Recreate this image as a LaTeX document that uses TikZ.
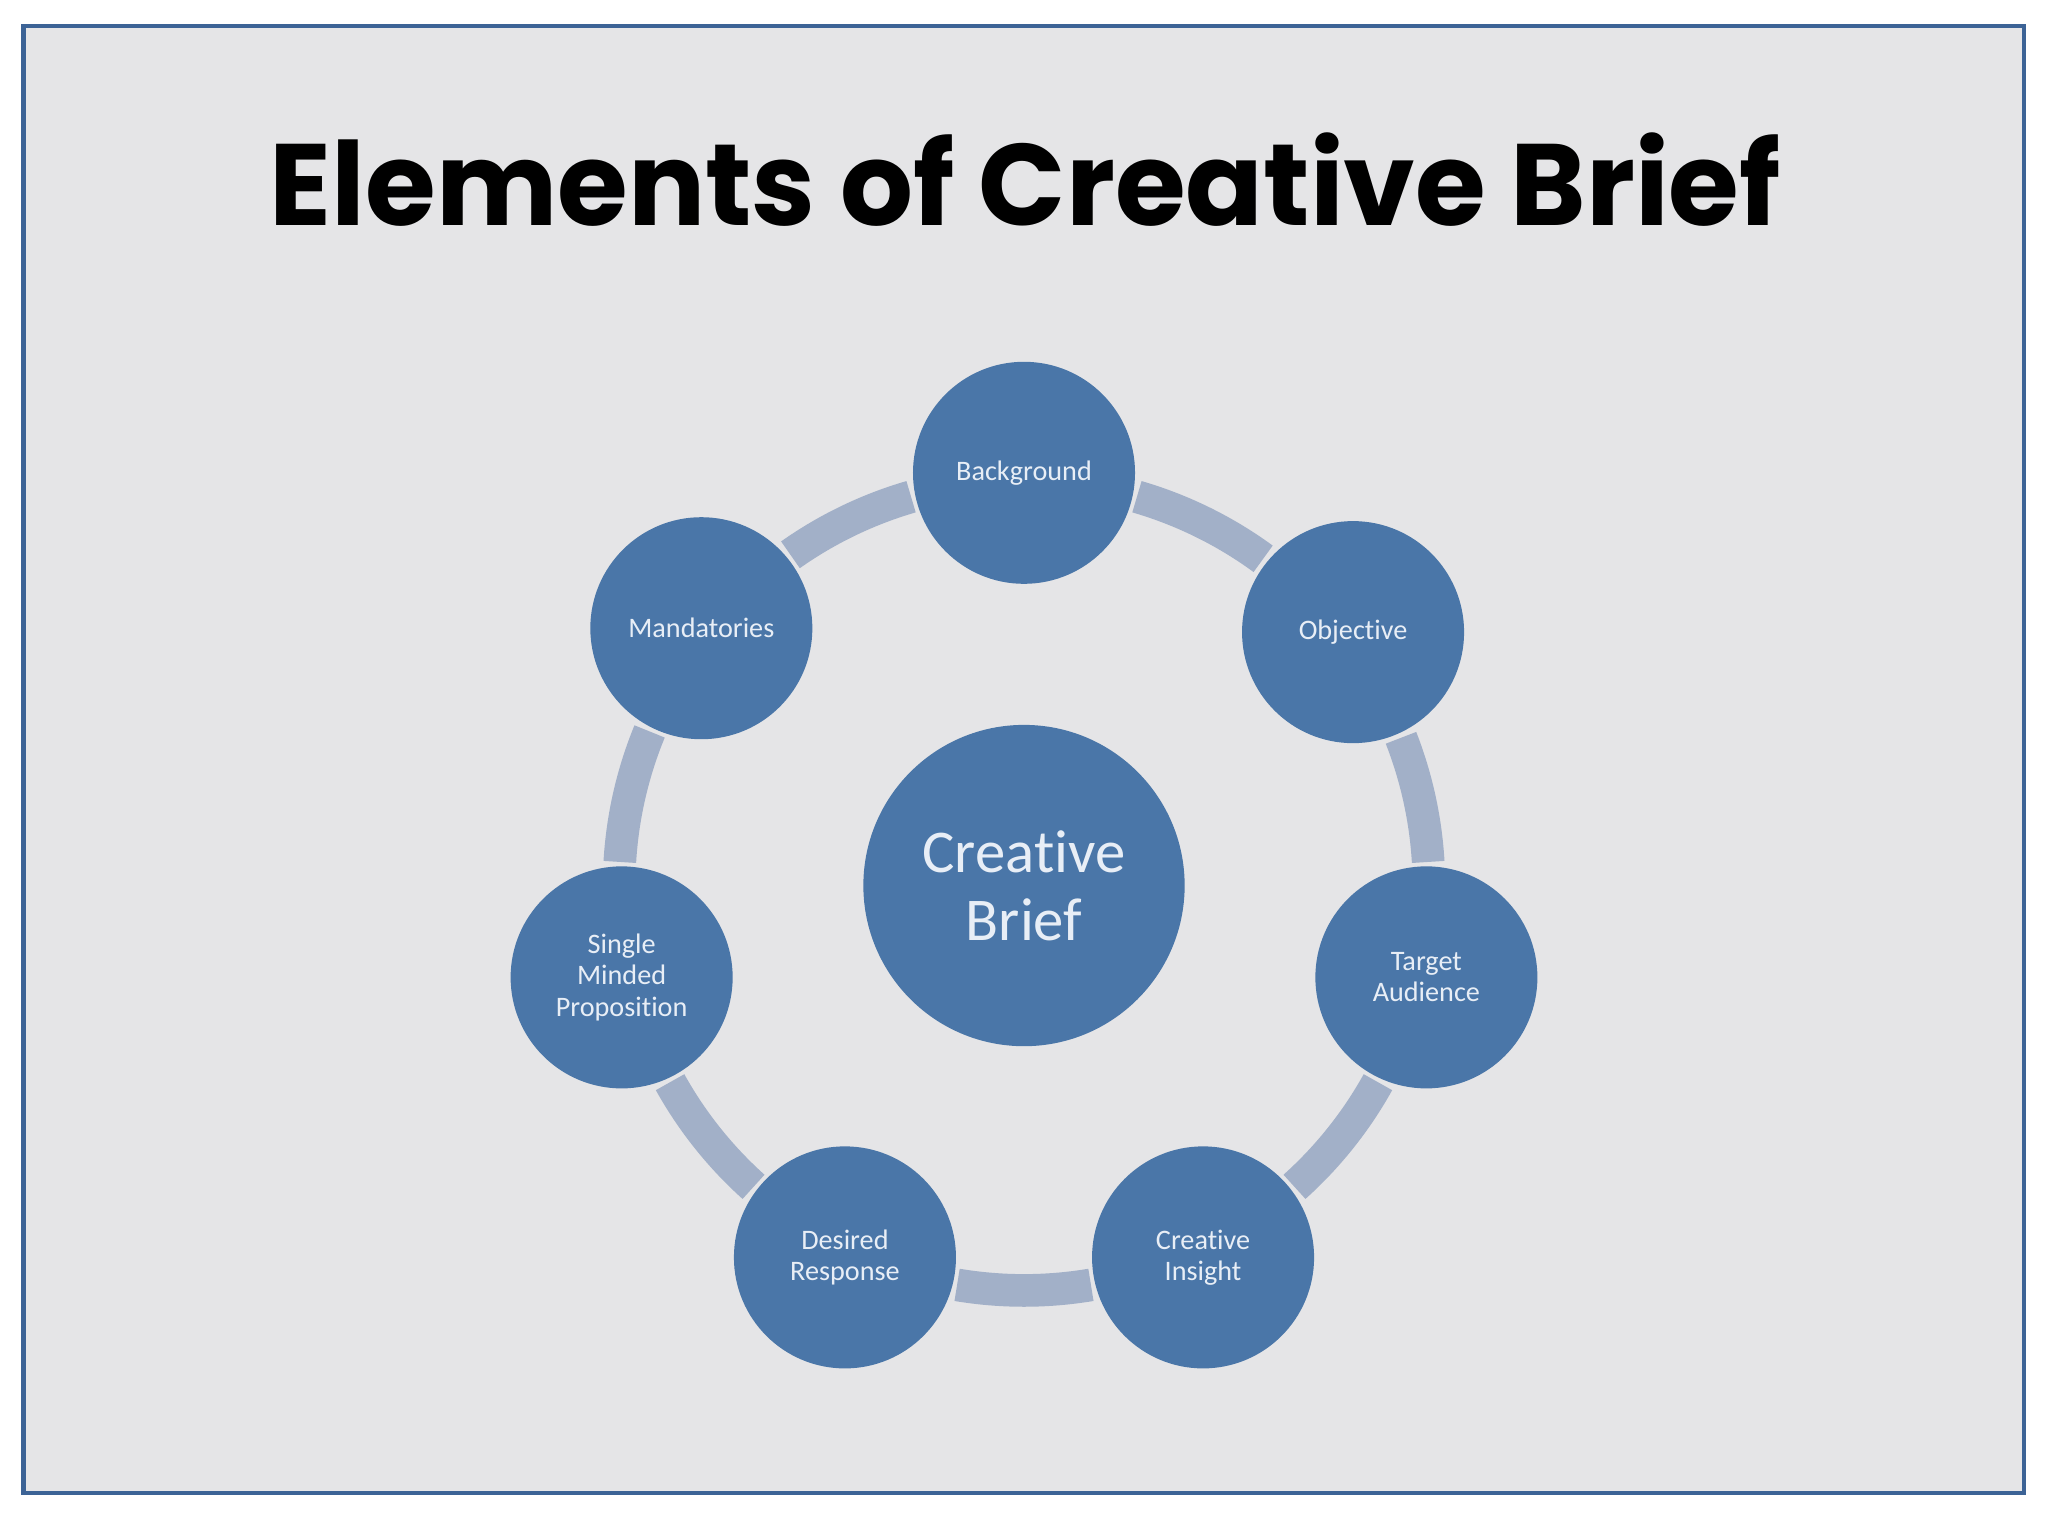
\documentclass[tikz,border=0pt]{standalone}
\usepackage{fontspec}
\setmainfont{Carlito}[Ligatures=NoCommon]
\newfontfamily\titlefont{Poppins}
\definecolor{bgcol}{HTML}{E5E5E7}
\definecolor{bordercol}{HTML}{3C6396}
\definecolor{nodeblue}{HTML}{4A76A8}
\definecolor{ringcol}{HTML}{A2B0C8}
\definecolor{textcol}{HTML}{E8EEF6}
\begin{document}
\begin{tikzpicture}[x=1pt,y=1pt,
  ringarc/.style={draw=ringcol, line width=25pt},
  item/.style={circle, fill=nodeblue, minimum size=170pt, inner sep=0pt, text=textcol, align=center, font=\fontsize{21.6}{24}\selectfont},
  hub/.style={item, minimum size=246pt, font=\fontsize{46.5}{52}\selectfont}]
\useasboundingbox (0,0) rectangle (1568,1176);
\fill[white] (0,0) rectangle (1568,1176);
\draw[fill=bgcol, draw=bordercol, line width=3.6pt] (18.2,1156) rectangle (1549.5,33);
\node[anchor=base, inner sep=0pt] (title) at (785,1003) {\resizebox{1156pt}{71pt}{\titlefont\bfseries Elements of Creative Brief}};
\coordinate (C) at (784,498);
% node angles (degrees, counter-clockwise from east)
\def\aB{90}\def\aO{37.6}
\foreach \s/\e in {\aB/\aO, \aO/{90-2*360/7}, {90-2*360/7}/{90-3*360/7}, {90-3*360/7}/{90-4*360/7}, {90-4*360/7}/{90-5*360/7}, {90-5*360/7}/{90-6*360/7}, {90-6*360/7}/{90-7*360/7}}
  \draw[ringarc] ([shift={({\s-16.2}:310)}]C) arc[start angle={\s-16.2}, end angle={\e+16.2}, radius=310];
\node[hub] (hub) at (C) {Creative\\Brief};
\node[item] (background) at ([shift={(90:316)}]C) {Background};
\node[item] (objective) at ([shift={(37.6:318)}]C) {Objective};
\node[item] (target) at ([shift={({90-2*360/7}:316)}]C) {Target\\Audience};
\node[item] (insight) at ([shift={({90-3*360/7}:316)}]C) {Creative\\Insight};
\node[item] (response) at ([shift={({90-4*360/7}:316)}]C) {Desired\\Response};
\node[item] (smp) at ([shift={({90-5*360/7}:316)}]C) {Single\\Minded\\Proposition};
\node[item] (mandatories) at ([shift={({90-6*360/7}:316)}]C) {Mandatories};
\end{tikzpicture}
\end{document}
